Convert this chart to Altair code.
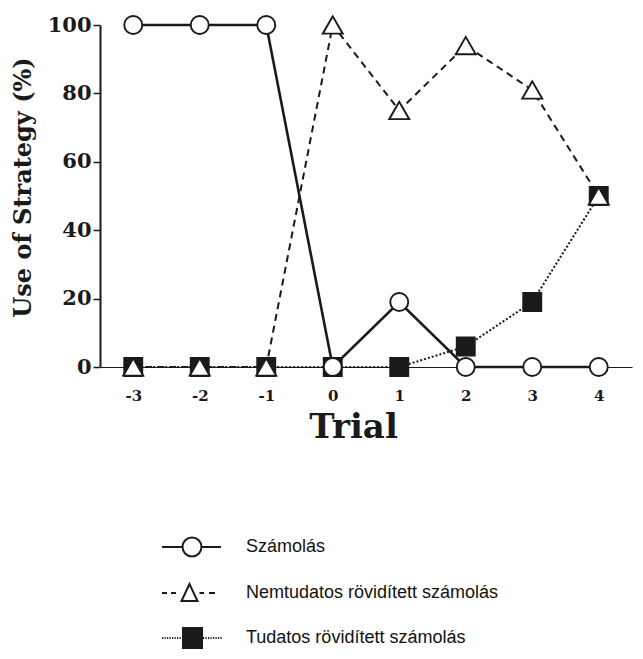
import altair as alt
import pandas as pd

# ---- data ----
trials = [-3, -2, -1, 0, 1, 2, 3, 4]
szamolas = [100, 100, 100, 0, 19, 0, 0, 0]
nemtudatos = [0, 0, 0, 100, 75, 94, 81, 50]
tudatos = [0, 0, 0, 0, 0, 6, 19, 50]
series_names = ["Számolás", "Nemtudatos rövidített számolás", "Tudatos rövidített számolás"]
y_ticks = [0, 20, 40, 60, 80, 100]

rows = []
for name, vals in zip(series_names, [szamolas, nemtudatos, tudatos]):
    for t, v in zip(trials, vals):
        rows.append({"trial": t, "value": v, "series": name})
df = pd.DataFrame(rows)

INK = "#1a1a1a"
SERIF = "DejaVu Serif"

x_scale = alt.Scale(domain=[-3.5, 4.5], nice=False, zero=False)
y_scale = alt.Scale(domain=[0, 100], nice=False)

x_axis = alt.Axis(
    values=trials, ticks=False, tickSize=0, grid=False,
    domainColor=INK, domainWidth=1.2,
    labelFont=SERIF, labelFontWeight="bold", labelFontSize=15, labelColor=INK,
    labelPadding=21, labelExpr="'' + datum.value",
    title="Trial", titleFont=SERIF, titleFontWeight="bold", titleFontSize=34,
    titleColor=INK, titlePadding=7, titleX=253,
)
y_axis = alt.Axis(
    values=y_ticks, tickSize=7, tickWidth=1.5, tickColor=INK, grid=False,
    domainColor=INK, domainWidth=2,
    labelFont=SERIF, labelFontWeight="bold", labelFontSize=21, labelColor=INK,
    labelPadding=2,
    title="Use of Strategy (%)", titleFont=SERIF, titleFontWeight="bold",
    titleFontSize=24, titleColor=INK, titlePadding=12, titleY=162,
)

base = alt.Chart(df)
X = alt.X("trial:Q", scale=x_scale, axis=x_axis)
Y = alt.Y("value:Q", scale=y_scale, axis=y_axis)


def series_layers(name, dash, line_w, shape, size, fill):
    src = base.transform_filter(alt.datum.series == name)
    line_kw = dict(color=INK, strokeWidth=line_w, strokeCap="butt")
    if dash:
        line_kw["strokeDash"] = dash
    line = src.mark_line(**line_kw).encode(x=X, y=Y)
    pts = src.mark_point(
        shape=shape, size=size, filled=True, fill=fill, stroke=INK,
        strokeWidth=1.9, opacity=1,
    ).encode(x=X, y=Y)
    return [line, pts]


layers = []
layers += series_layers(series_names[2], [2, 2], 2, "square", 324, INK)
layers += series_layers(series_names[1], [7, 5], 2, "triangle-up", 400, "white")
layers += series_layers(series_names[0], None, 2.6, "circle", 324, "white")

# ---- legend glyphs (line sample + marker), unit = 10 px ----
circle_path = ("M-3,0L-0.95,0M0.95,0L2.9,0"
               "M0.95,0A0.95,0.95,0,1,1,-0.95,0A0.95,0.95,0,1,1,0.95,0Z")
triangle_path = ("M-0.25,-0.9L-1.05,0.8L0.55,0.8Z"
                 "M-3,0L-2.5,0M-2.1,0L-1.6,0M0.75,0L1.2,0M1.7,0L2.3,0")
dots = []
p = -3.0
while p < -1.0:
    dots.append(f"M{p:.2f},0L{p + 0.12:.2f},0")
    p += 0.25
p = 1.1
while p < 2.9:
    dots.append(f"M{p:.2f},0L{p + 0.12:.2f},0")
    p += 0.25
square_path = "M-0.9,-1L1,-1L1,1L-0.9,1Z" + "".join(dots)

legend = alt.Legend(
    title=None, orient="none", legendX=53, legendY=511, padding=0,
    rowPadding=19, symbolOffset=28, labelOffset=43, symbolSize=400,
    symbolStrokeColor=INK, symbolStrokeWidth=2, symbolOpacity=1,
    labelFont="Liberation Sans", labelFontSize=18, labelColor="#111111",
    labelLimit=500,
)
legend_layer = base.transform_filter("false").mark_point(
    filled=True, strokeWidth=2, size=400, opacity=1
).encode(
    shape=alt.Shape("series:N", legend=legend,
                    scale=alt.Scale(domain=series_names,
                                    range=[circle_path, triangle_path, square_path])),
    fill=alt.Fill("series:N", legend=legend,
                  scale=alt.Scale(domain=series_names,
                                  range=["white", "white", INK])),
    stroke=alt.Stroke("series:N", legend=legend,
                      scale=alt.Scale(domain=series_names,
                                      range=[INK, INK, INK])),
)

chart = alt.layer(*layers, legend_layer).properties(
    width=532, height=342,
    autosize=alt.AutoSizeParams(type="none"),
    padding={"left": 100, "top": 25, "right": 11, "bottom": 292},
    background="white",
).configure_view(stroke=None)

chart.save("out.html", embed_options={"renderer": "svg", "actions": False})
